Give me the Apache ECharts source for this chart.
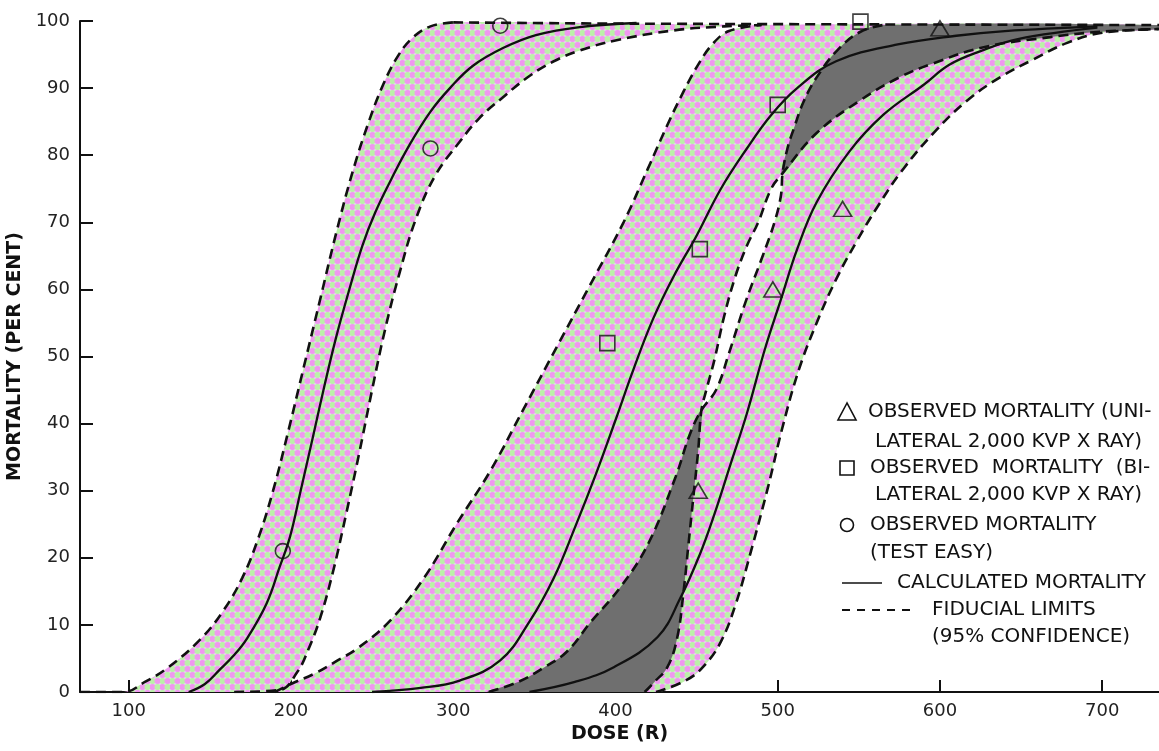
<!DOCTYPE html>
<html>
<head>
<meta charset="UTF-8">
<title>Mortality vs dose</title>
<script src="https://cdn.jsdelivr.net/npm/echarts@6/dist/echarts.min.js"></script>
<style>
  html, body { margin: 0; padding: 0; background: #fff; }
  #main { width: 1159px; height: 751px; }
</style>
</head>
<body>
<div id="main"></div>
<script>
    // tick labels on the dose axis
    var doseTicks = [100, 200, 300, 400, 500, 600, 700];

    // points where the bilateral and unilateral limits cross
    var lowTip = [453, 42];
    var upTip = [503, 77.3];

    // test easy: left limit, calculated curve, right limit  [dose, mortality]
    var easyLeft = [[70, 0], [97, 0], [110, 1.5], [124, 3.6], [144, 7.8], [158, 12], [170, 17], [180, 23], [189, 30],
        [198, 38.5], [208, 48.5], [218, 58.5], [228, 68.5], [238, 77.5], [248, 85], [257, 90.6], [266, 94.8],
        [275, 97.5], [286, 99.2], [300, 99.8]];
    var easyCalc = [[137, 0], [147, 1.2], [156, 3.3], [165, 5.5], [173, 8], [185, 13.2], [193, 18.6], [199.5, 23.2],
        [206, 30], [214, 38.5], [221, 46], [228, 53], [236, 60], [244, 66.5], [252, 71.5], [262, 76.5], [273, 81.5],
        [286, 86.5], [298, 90], [312, 93.3], [331, 96], [351, 97.9], [378, 99.1], [413, 99.7]];
    var easyRight = [[165, 0], [193, 0.3], [204, 3], [211, 6.5], [218, 11], [226, 18], [234, 26.5], [242, 35.5],
        [250, 45], [258, 54], [267, 62.5], [277, 70.5], [289, 77], [304, 82], [316, 85.5], [330, 88.5], [347, 91.8],
        [362, 94], [378, 95.6], [400, 97.1], [436, 98.6], [467, 99.2], [490, 99.4]];

    // dashed line running along the top
    var topLine = [[300, 99.8], [415, 99.6], [735, 99.4]];

    // bilateral x ray
    var biLeft = [[190, 0], [201, 1.3], [215, 2.8], [228, 4.6], [241, 6.5], [261, 10.6], [282, 17], [302, 25],
        [323, 33], [343, 42], [364, 51.5], [384, 60.5], [405, 70], [420, 78], [432, 84.5], [442, 89.5], [451, 93.5],
        [460, 96.6], [470, 98.5], [490, 99.4]];
    var biCalc = [[250, 0], [280, 0.6], [304, 1.7], [329, 4.7], [347, 10.5], [362, 17], [375, 24.5], [388, 32.5],
        [400, 40.5], [411, 48], [423, 55.5], [436, 62], [450, 68], [465, 75], [481, 81], [496, 86], [512, 90],
        [536, 94], [574, 96.5], [610, 97.8], [640, 98.5], [697, 99.2]];
    var biRight = [[418, 0], [424, 1.5], [432, 3.7], [438, 8], [442, 15], [445, 22], [448, 29], [451, 36], lowTip,
        [456, 45], [461, 49.5], [467, 56], [474, 62], [481, 66.5], [488, 70], [496, 75], upTip, [524, 83.3],
        [551, 88.2], [575, 91.6], [596, 93.7], [627, 96.1], [668, 97.6], [699, 98.4], [735, 98.8]];

    // unilateral x ray
    var uniLeft = [[322, 0], [340, 1.5], [355, 3.5], [370, 6], [385, 10.5], [403, 15.6], [420, 22], [437, 32],
        [446, 38.5], lowTip, [462, 45], [470, 50.5], [480, 58], [490, 64.5], [498, 70], [502, 74], upTip,
        [506, 81], [510, 84], [516, 88], [524, 91.6], [537, 95.7], [551, 98.4], [565, 99.4]];
    var uniCalc = [[347, 0], [375, 1.5], [399, 3.7], [426, 8.2], [440, 14], [452, 20.5], [461, 26.5], [471, 34],
        [481, 41.5], [492, 51], [502, 58.5], [512, 66], [524, 73], [544, 80.5], [565, 86], [590, 90.5], [606, 93.5],
        [625, 95.5], [648, 97.3], [697, 99]];
    var uniRight = [[425, 0], [444, 1.8], [455, 4], [465, 7.5], [474, 13], [483, 20.5], [494, 30.5], [503, 39.5],
        [513, 48], [524, 55], [536, 61.5], [549, 67.3], [562, 72.5], [576, 77.5], [596, 83.3], [617, 88.2],
        [637, 91.6], [657, 94.2], [678, 96.7], [699, 98.2], [735, 98.8]];

    // observed points
    var uniObserved = [[451, 30], [497, 60], [540, 72], [600, 98.9]];
    var biObserved = [[395, 52], [452, 66], [500, 87.5], [551, 99.9]];
    var easyObserved = [[195, 21], [286, 81], [329, 99.3]];

    // dotted pink / green screen used for the confidence bands
    function makeScreen() {
        var c = document.createElement('canvas');
        c.width = 10;
        c.height = 12;
        var g = c.getContext('2d');
        g.fillStyle = '#e8d6f1';
        g.fillRect(0, 0, 10, 12);
        function dot(x, y, col) {
            g.fillStyle = col;
            g.beginPath();
            g.arc(x, y, 3, 0, Math.PI * 2);
            g.fill();
        }
        dot(2.5, 3, '#ef98ef');
        dot(7.5, 3, '#bbf1a8');
        dot(2.5, 9, '#bbf1a8');
        dot(7.5, 9, '#ef98ef');
        return c;
    }
    var screen = { image: makeScreen(), repeat: 'repeat' };

    function band(left, right) {
        var endL = left[left.length - 1][0];
        var endR = right[right.length - 1][0];
        var top = topLine.filter(function (p) { return p[0] > endL && p[0] <= endR; });
        return left.concat(top, right.slice().reverse());
    }

    var grayLow = uniLeft.slice(0, uniLeft.indexOf(lowTip) + 1)
        .concat(biRight.slice(0, biRight.indexOf(lowTip)).reverse());
    var grayHigh = uniLeft.slice(uniLeft.indexOf(upTip))
        .concat([topLine[topLine.length - 1]], biRight.slice(biRight.indexOf(upTip) + 1).reverse());

    function area(points, fill, z) {
        return {
            type: 'custom',
            coordinateSystem: 'cartesian2d',
            clip: true,
            silent: true,
            z: z,
            data: [[400, 50]],
            renderItem: function (params, api) {
                return {
                    type: 'polygon',
                    shape: { points: points.map(function (p) { return api.coord(p); }), smooth: 0.4 },
                    style: { fill: fill, stroke: null }
                };
            }
        };
    }

    function curve(data, dashed) {
        return {
            type: 'line',
            data: data,
            smooth: 0.4,
            showSymbol: false,
            silent: true,
            z: 3,
            lineStyle: { color: '#111', width: dashed ? 2.6 : 2.3, type: dashed ? [10, 6] : 'solid' }
        };
    }

    function marks(data, symbol, size) {
        return {
            type: 'scatter',
            data: data,
            symbol: symbol,
            symbolSize: size,
            silent: true,
            z: 4,
            itemStyle: { color: 'rgba(0,0,0,0)', borderColor: '#111', borderWidth: 1.6 }
        };
    }

    var txt = { fill: '#111', font: '20px "DejaVu Sans", sans-serif', verticalAlign: 'middle' };
    function legendText(x, y, s) {
        return { type: 'text', x: x, y: y, style: Object.assign({ text: s }, txt) };
    }

    var myChart = echarts.init(document.getElementById('main'));
    var option = {
        animation: false,
        backgroundColor: '#fff',
        grid: { left: 80, right: 0, top: 21, bottom: 59, containLabel: false, outerBoundsMode: 'none' },
        xAxis: {
            type: 'value',
            min: 70,
            max: 735,
            name: 'DOSE (R)',
            nameLocation: 'middle',
            nameGap: 28,
            nameTextStyle: { fontFamily: 'DejaVu Sans', fontWeight: 'bold', fontSize: 19, color: '#111' },
            splitLine: { show: false },
            axisLine: { lineStyle: { color: '#111', width: 2 } },
            axisTick: { inside: true, length: 12, customValues: doseTicks, lineStyle: { color: '#111', width: 2 } },
            axisLabel: { customValues: doseTicks, margin: 10, fontFamily: 'DejaVu Sans', fontSize: 18, color: '#222' }
        },
        yAxis: {
            type: 'value',
            min: 0,
            max: 100,
            interval: 10,
            name: 'MORTALITY (PER CENT)',
            nameLocation: 'middle',
            nameGap: 50,
            nameRotate: 90,
            nameTextStyle: { fontFamily: 'DejaVu Sans', fontWeight: 'bold', fontSize: 19, color: '#111' },
            splitLine: { show: false },
            axisLine: { show: true, lineStyle: { color: '#111', width: 2 } },
            axisTick: { show: true, inside: true, length: 13, lineStyle: { color: '#111', width: 2 } },
            axisLabel: { margin: 10, fontFamily: 'DejaVu Sans', fontSize: 18, color: '#222' }
        },
        graphic: [
            { type: 'polygon', shape: { points: [[847, 403], [838, 420], [856, 420]] }, style: { fill: null, stroke: '#111', lineWidth: 1.6 } },
            legendText(868, 412, 'OBSERVED MORTALITY (UNI-'),
            legendText(875, 442, 'LATERAL 2,000 KVP X RAY)'),
            { type: 'rect', shape: { x: 840, y: 461, width: 14, height: 14 }, style: { fill: null, stroke: '#111', lineWidth: 1.6 } },
            legendText(870, 468, 'OBSERVED  MORTALITY  (BI-'),
            legendText(875, 495, 'LATERAL 2,000 KVP X RAY)'),
            { type: 'circle', shape: { cx: 847, cy: 525, r: 6.5 }, style: { fill: null, stroke: '#111', lineWidth: 1.6 } },
            legendText(870, 525, 'OBSERVED MORTALITY'),
            legendText(870, 553, '(TEST EASY)'),
            { type: 'line', shape: { x1: 842, y1: 583, x2: 882, y2: 583 }, style: { stroke: '#111', lineWidth: 1.5 } },
            legendText(897, 583, 'CALCULATED MORTALITY'),
            { type: 'line', shape: { x1: 842, y1: 610, x2: 917, y2: 610 }, style: { stroke: '#111', lineWidth: 2, lineDash: [8, 7] } },
            legendText(932, 610, 'FIDUCIAL LIMITS'),
            legendText(932, 637, '(95% CONFIDENCE)')
        ],
        series: [
            area(band(easyLeft, easyRight), screen, 1),
            area(band(biLeft, biRight), screen, 1),
            area(band(uniLeft, uniRight), screen, 1),
            area(grayLow, '#6f6f6f', 2),
            area(grayHigh, '#6f6f6f', 2),
            curve(easyLeft, true),
            curve(easyRight, true),
            curve(topLine, true),
            curve(biLeft, true),
            curve(biRight, true),
            curve(uniLeft, true),
            curve(uniRight, true),
            curve(easyCalc, false),
            curve(biCalc, false),
            curve(uniCalc, false),
            marks(uniObserved, 'triangle', [18, 15]),
            marks(biObserved, 'rect', 15),
            marks(easyObserved, 'circle', 15)
        ]
    };
    myChart.setOption(option);
</script>
</body>
</html>
